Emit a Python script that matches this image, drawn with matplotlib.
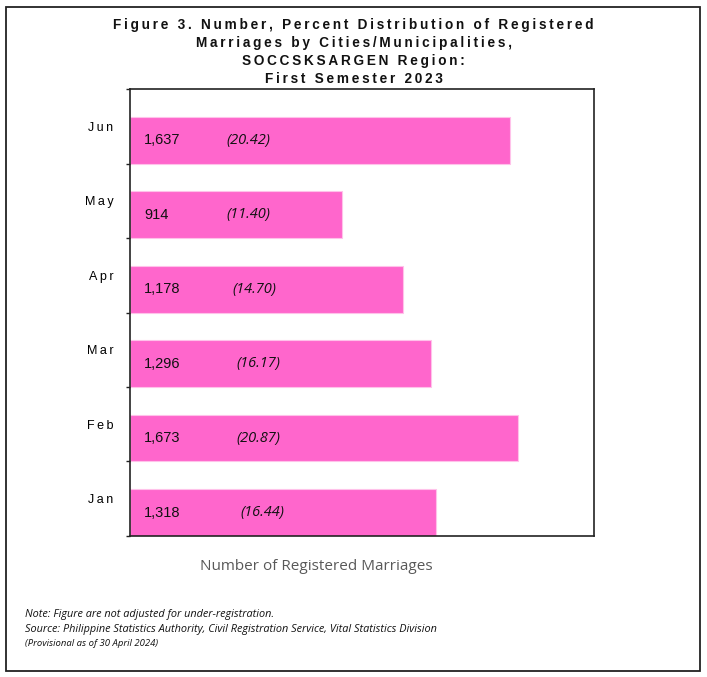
import numpy as np
import matplotlib.pyplot as plt
from matplotlib.patches import Rectangle

# Данные
months = ["Jan", "Feb", "Mar", "Apr", "May", "Jun"]
counts = [1318, 1673, 1296, 1178, 914, 1637]
percents = ["16.44", "20.87", "16.17", "14.70", "11.40", "20.42"]

# положение подписей процентов (в единицах оси X)
pct_x = [474, 457, 457, 440, 414, 414]

title_lines = ["Figure 3. Number, Percent Distribution of Registered",
               "Marriages by Cities/Municipalities,",
               "SOCCSKSARGEN Region:",
               "First Semester 2023"]

SP = "\u2009"  # разрядка букв


def spaced(s):
    return SP.join(s)


fig = plt.figure(figsize=(7.07, 6.77), dpi=100)
ax = fig.add_axes([0.1839, 0.2083, 0.6563, 0.6602])

y = np.arange(len(months))
bar_h = 0.63
ax.barh(y - 0.5, counts, height=bar_h, align='edge', color='#FF66CC',
        edgecolor='#FFC2EA', linewidth=0.8)

for i in range(len(months)):
    yc = y[i] - 0.5 + bar_h / 2
    ax.text(60, yc, f"{counts[i]:,}", va='center', ha='left',
            fontsize=10.5, family='Liberation Sans', color='#111111')
    ax.text(pct_x[i], yc, f"({percents[i]})", va='center', ha='left',
            fontsize=10.5, family='Open Sans', style='italic', color='#111111')

ax.set_xlim(0, 2000)
ax.set_ylim(-0.5, len(months) - 0.5)
ax.set_xticks([])
ax.set_yticks(y)
ax.set_yticklabels([spaced(m) for m in months],
                   family=['Liberation Sans', 'DejaVu Sans'], fontsize=9)
ax.set_yticks(np.arange(-0.5, len(months)), minor=True)
ax.tick_params(axis='y', which='major', length=0, pad=12)
ax.tick_params(axis='y', which='minor', length=3, width=1, color='#222222')
for s in ax.spines.values():
    s.set_color('#222222')
    s.set_linewidth(1.2)

# Заголовок
line_y = [25.5, 43.3, 61, 78.7]
for t, yy in zip(title_lines, line_y):
    fig.text(0.5, 1 - yy / 677, spaced(t), ha='center', va='center',
             fontsize=9.8, fontweight='bold',
             family=['Liberation Sans', 'DejaVu Sans'], color='#111111')

fig.text(316 / 707, 1 - 567 / 677, "Number of Registered Marriages",
         ha='center', va='center', fontsize=11, family='Open Sans',
         color='#595959')

fig.text(25 / 707, 1 - 615 / 677, "Note: Figure are not adjusted for under-registration.",
         ha='left', va='center', fontsize=7.8, family='Open Sans',
         style='italic', color='#111111')
fig.text(25 / 707, 1 - 629.5 / 677,
         "Source: Philippine Statistics Authority, Civil Registration Service, Vital Statistics Division",
         ha='left', va='center', fontsize=7.8, family='Open Sans',
         style='italic', color='#111111')
fig.text(25 / 707, 1 - 643 / 677, "(Provisional as of 30 April 2024)",
         ha='left', va='center', fontsize=6.8, family='Open Sans',
         style='italic', color='#111111')

# Внешняя рамка
fig.patches.append(Rectangle((6 / 707, 6 / 677), 694 / 707, 664 / 677,
                             transform=fig.transFigure, fill=False,
                             edgecolor='#222222', linewidth=1.3))

fig.savefig("out.png", dpi=100)
